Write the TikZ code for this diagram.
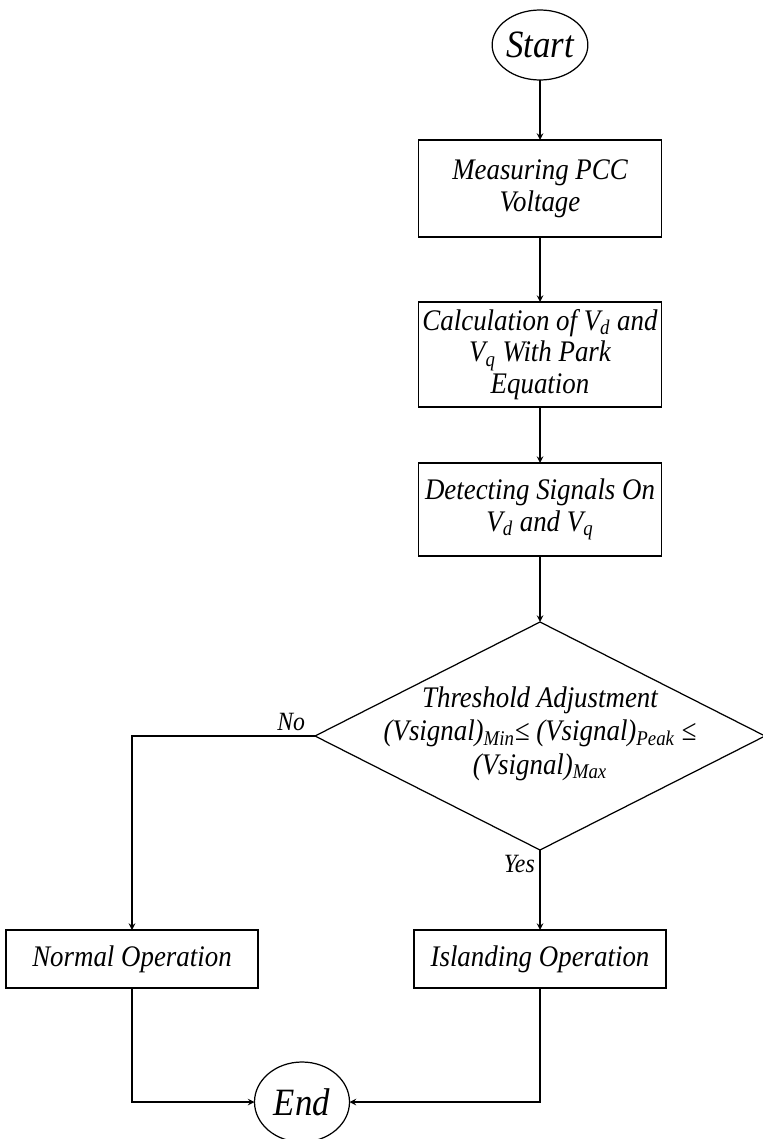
\documentclass[tikz,border=0pt]{standalone}
\usepackage{fontspec}
\setmainfont{Liberation Serif}[FakeStretch=0.9]
\usepackage{tikz}
\usetikzlibrary{shapes,arrows,positioning,calc}

\begin{document}
\begin{tikzpicture}[
    node distance=1.2cm,
    every node/.style={inner sep=0pt, outer sep=0pt},
    box/.style={rectangle, draw, line width=0.7pt, minimum width=4.86cm, align=center, font=\itshape\fontsize{17}{18}\selectfont},
    term/.style={ellipse, draw, line width=0.7pt, minimum width=1.9cm, font=\itshape\fontsize{22}{24}\selectfont},
    decision/.style={diamond, draw, line width=0.7pt, minimum width=9.0cm, minimum height=4.56cm},
    tag/.style={font=\itshape\fontsize{15}{16}\selectfont, inner sep=3pt},
    arrow/.style={->, >=stealth, line width=0.7pt}
]
\useasboundingbox (0,0) rectangle (15.24,-22.78);

\node[term, minimum height=1.4cm] (start) at (10.8,-0.9) {Start};
\node[box, minimum height=1.94cm, below=1.2cm of start] (meas) {Measuring PCC\\Voltage};
\node[box, minimum height=2.1cm, below=1.3cm of meas] (calc) {Calculation of V\textsubscript{d} and\\V\textsubscript{q} With Park\\Equation};
\node[box, minimum height=1.86cm, below=1.12cm of calc] (detect) {Detecting Signals On\\V\textsubscript{d} and V\textsubscript{q}};
\node[decision, below=1.32cm of detect] (dec) {};
\node[font=\itshape\fontsize{17}{19}\selectfont, align=center] (dectext) at ($(dec.center)+(0,0.05)$) {Threshold Adjustment\\(Vsignal)\textsubscript{Min}≤ (Vsignal)\textsubscript{Peak} ≤\\(Vsignal)\textsubscript{Max}};
\node[box, minimum width=5.04cm, minimum height=1.16cm, below=1.6cm of dec] (island) {Islanding Operation};
\node[box, minimum width=5.04cm, minimum height=1.16cm, left=3.12cm of island] (normal) {Normal Operation};
\node[term, minimum height=1.6cm] (end) at (6.04,-22.04) {End};

\draw[arrow] (start) -- (meas);
\draw[arrow] (meas) -- (calc);
\draw[arrow] (calc) -- (detect);
\draw[arrow] (detect) -- (dec.north);
\draw[arrow] (dec.west) -- node[tag, above, pos=0.13] {No} (normal.north |- dec.west) -- (normal.north);
\draw[arrow] (dec.south) -- node[tag, left, pos=0.18] {Yes} (island.north);
\draw[arrow] (normal.south) |- (end.west);
\draw[arrow] (island.south) |- (end.east);
\end{tikzpicture}
\end{document}
